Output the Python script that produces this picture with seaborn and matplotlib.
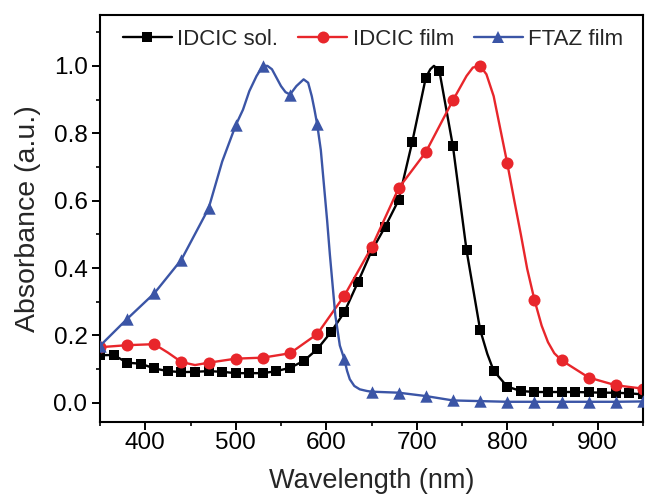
import numpy as np
import matplotlib
matplotlib.use("Agg")
import matplotlib.pyplot as plt
from matplotlib.lines import Line2D
from matplotlib.ticker import MultipleLocator
import seaborn as sns

# IDCIC in solution (symbols every 15 nm)
sol_wl = [350, 365, 380, 395, 410, 425, 440, 455, 470, 485, 500, 515, 530, 545,
          560, 575, 590, 605, 620, 635, 650, 665, 680, 695, 710, 715, 719, 725,
          740, 755, 770, 778, 785, 800, 815, 830, 845, 860, 875, 890, 905, 920,
          935, 950]
sol_abs = [0.141, 0.142, 0.119, 0.116, 0.102, 0.094, 0.091, 0.092, 0.094, 0.092,
           0.088, 0.088, 0.088, 0.094, 0.104, 0.124, 0.159, 0.209, 0.269, 0.358,
           0.450, 0.522, 0.602, 0.774, 0.965, 0.990, 1.000, 0.985, 0.761, 0.453,
           0.217, 0.145, 0.095, 0.048, 0.035, 0.032, 0.032, 0.032, 0.032, 0.031,
           0.030, 0.030, 0.028, 0.025]

# IDCIC film (symbols every 30 nm)
film_wl = [350, 380, 410, 425, 440, 455, 470, 500, 530, 560, 590, 620, 650, 680,
           710, 740, 755, 762, 770, 777, 785, 800, 808, 815, 822, 830, 838, 845,
           852, 860, 890, 920, 950]
film_abs = [0.165, 0.171, 0.174, 0.149, 0.121, 0.112, 0.119, 0.131, 0.134, 0.147,
            0.204, 0.318, 0.461, 0.637, 0.744, 0.898, 0.970, 0.995, 1.000, 0.975,
            0.910, 0.711, 0.597, 0.500, 0.398, 0.306, 0.229, 0.180, 0.147, 0.126,
            0.075, 0.052, 0.042]

# FTAZ film (symbols every 30 nm)
ftaz_wl = [350, 380, 410, 440, 470, 485, 500, 508, 515, 523, 530, 535, 540, 545,
           550, 555, 560, 567, 575, 580, 584, 587, 590, 594, 597, 601, 604, 607,
           610, 615, 620, 623, 626, 631, 637, 645, 650, 680, 710, 740, 770, 800,
           830, 860, 890, 920, 950]
ftaz_abs = [0.169, 0.249, 0.325, 0.425, 0.577, 0.716, 0.824, 0.870, 0.925, 0.970,
            1.000, 1.000, 0.990, 0.965, 0.940, 0.922, 0.915, 0.940, 0.960, 0.950,
            0.910, 0.870, 0.826, 0.750, 0.660, 0.540, 0.440, 0.350, 0.260, 0.170,
            0.129, 0.095, 0.070, 0.050, 0.040, 0.035, 0.033, 0.030, 0.020, 0.007,
            0.005, 0.003, 0.003, 0.003, 0.003, 0.003, 0.004]

labels = ["IDCIC sol.", "IDCIC film", "FTAZ film"]
colors = ["#000000", "#e8262b", "#3b55a6"]

sns.set_style("ticks")
plt.rcParams["font.family"] = ["Liberation Sans", "DejaVu Sans"]

fig, ax = plt.subplots(figsize=(6.46, 4.96), dpi=100)
fig.subplots_adjust(left=100 / 646, right=643 / 646, bottom=1 - 422 / 496, top=1 - 15 / 496)

# (wavelengths, absorbance, symbol spacing, marker, scatter size, colour, legend marker size)
series = [
    (sol_wl, sol_abs, 15, "s", 52, colors[0], 7.2),
    (film_wl, film_abs, 30, "o", 75, colors[1], 8.6),
    (ftaz_wl, ftaz_abs, 30, "^", 80, colors[2], 9.0),
]

z = 2.0
for wl, ab, step, mk, size, col, _ in series:
    wl = np.asarray(wl)
    ab = np.asarray(ab)
    sns.lineplot(x=wl, y=ab, ax=ax, color=col, linewidth=1.7, sort=False,
                 estimator=None, legend=False, zorder=z)
    sel = (wl - 350) % step == 0
    sns.scatterplot(x=wl[sel], y=ab[sel], ax=ax, marker=mk, s=size, color=col,
                    linewidth=0, legend=False, zorder=z + 0.1)
    z += 0.2

handles = [Line2D([], [], color=col, lw=1.7, marker=mk, markersize=ms, markeredgewidth=0)
           for (_, _, _, mk, _, col, ms) in series]
ax.legend(handles, labels, loc="upper left", bbox_to_anchor=(0.042, 0.966), ncol=3,
          frameon=False, fontsize=16, handlelength=2.2, handletextpad=0.25,
          columnspacing=0.9, borderaxespad=0, borderpad=0)

ax.set_xlim(350, 950)
ax.set_ylim(-0.057, 1.151)
ax.xaxis.set_major_locator(MultipleLocator(100))
ax.xaxis.set_minor_locator(MultipleLocator(50))
ax.yaxis.set_major_locator(MultipleLocator(0.2))
ax.yaxis.set_minor_locator(MultipleLocator(0.1))
ax.tick_params(which="major", direction="out", length=5.5, width=1.4, labelsize=17.5,
               top=False, right=False, colors="black")
ax.tick_params(which="minor", direction="out", length=3, width=1.4, top=False, right=False)
ax.tick_params(axis="x", which="major", pad=1.5)
ax.tick_params(axis="y", which="major", pad=3.5)
for sp in ax.spines.values():
    sp.set_linewidth(1.5)
    sp.set_color("black")

ax.set_xlabel("Wavelength (nm)", fontsize=19.5, labelpad=10)
ax.set_ylabel("Absorbance (a.u.)", fontsize=20.5, labelpad=9)
ax.grid(False)

fig.savefig("out.png", dpi=100)
